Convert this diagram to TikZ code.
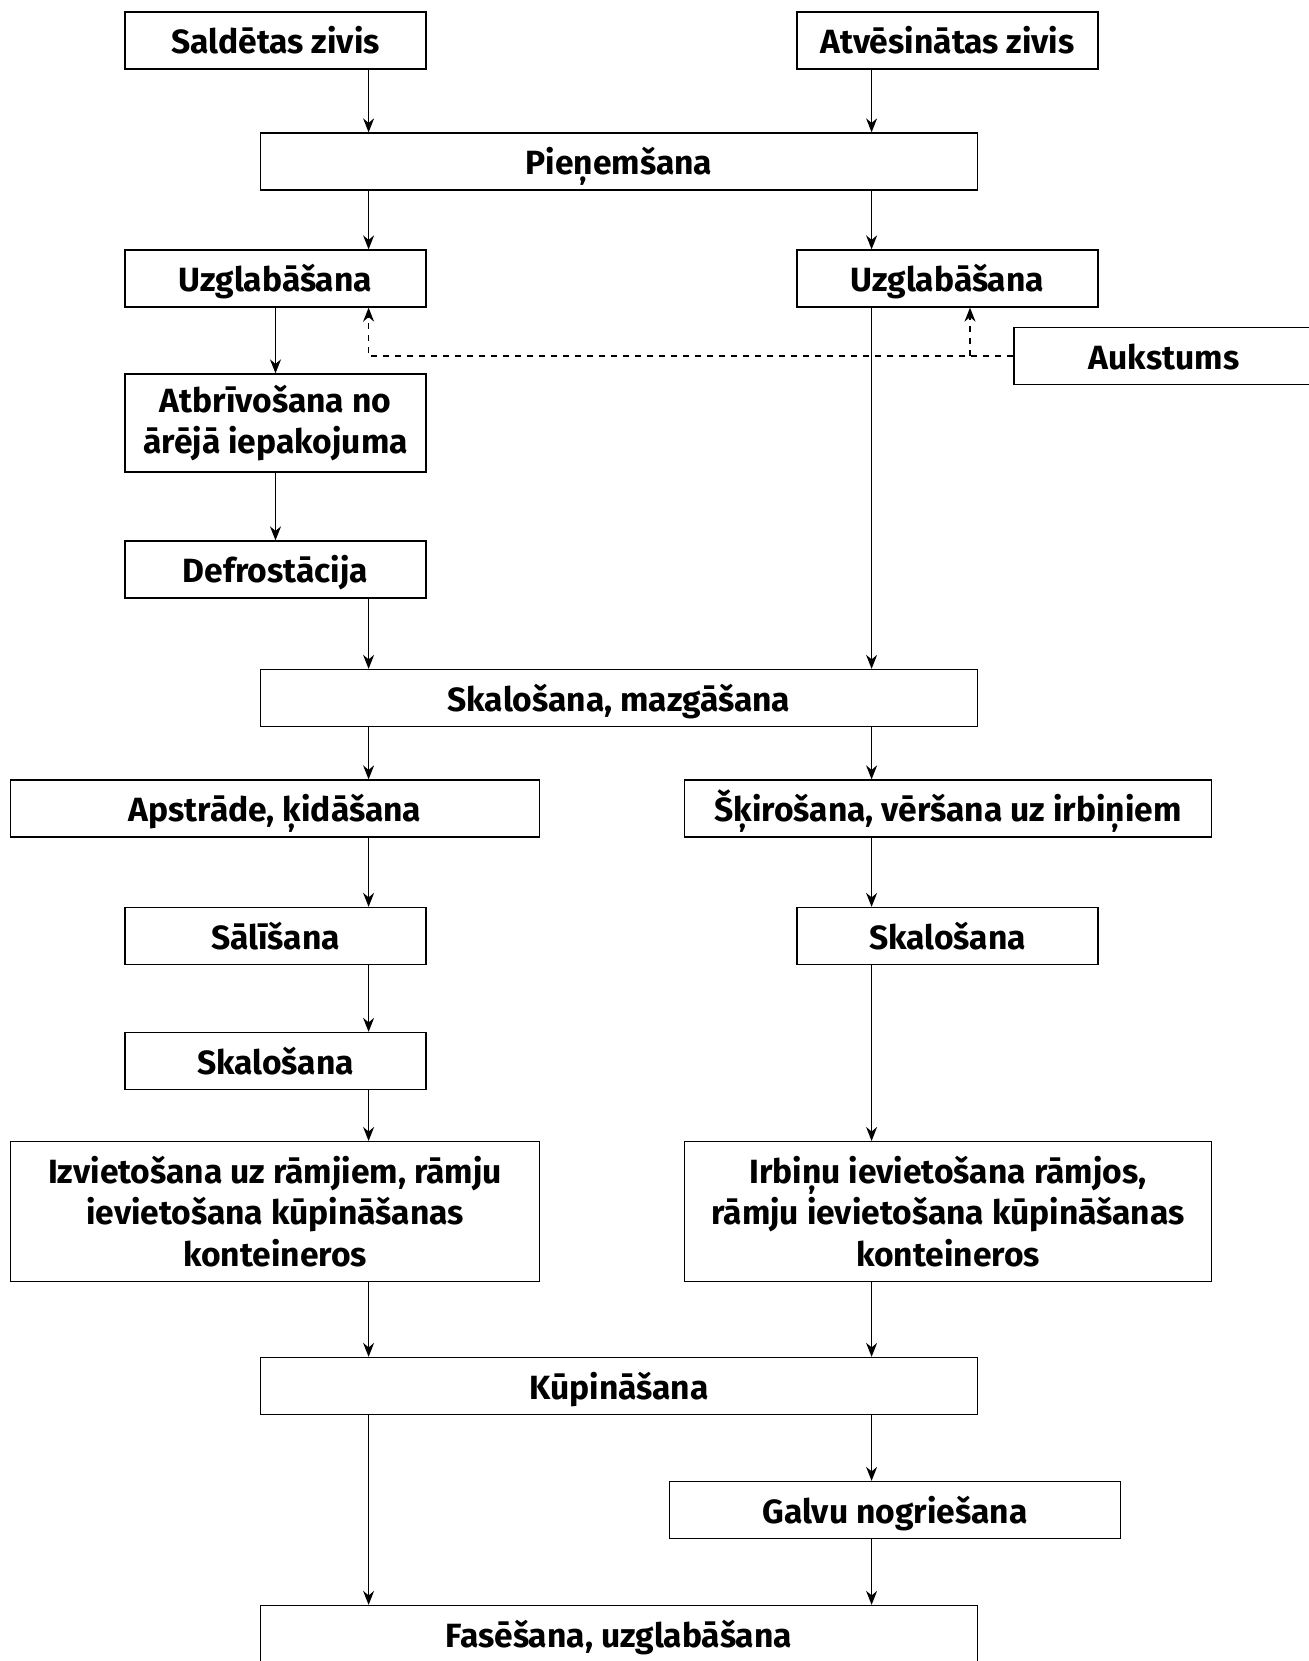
\documentclass[tikz,border=0pt]{standalone}
\usepackage{fontspec}
\setmainfont{Fira Sans}
\usetikzlibrary{arrows.meta}
\begin{document}
\begin{tikzpicture}[x=0.5pt,y=-0.5pt,
  boxbase/.style={draw,line width=0.65pt,inner sep=0pt,align=center,
    font=\fontsize{16.8}{20.7}\selectfont\bfseries,minimum height=28.5pt},
  box/.style={boxbase,text height=13pt,text depth=0pt},
  mbox/.style={boxbase},
  arr/.style={line width=0.65pt,-{Stealth[length=7pt,width=5.5pt]}},
  darr/.style={line width=0.65pt,dashed,dash pattern=on 3pt off 3pt,-{Stealth[length=7pt,width=5.5pt]}}]
\useasboundingbox (0,0) rectangle (1308,1661);
\coordinate (xL) at (368.6,0);
\coordinate (xR) at (871.6,0);
\coordinate (xC) at (275.5,0);
\coordinate (xD) at (970,0);
\node[box,minimum width=150.5pt] (sal) at (275.5,40.5) {Saldētas zivis};
\node[box,minimum width=150.5pt] (atv) at (947.5,40.5) {Atvēsinātas zivis};
\node[box,minimum width=358.5pt] (pie) at (619,161.5) {Pieņemšana};
\node[box,minimum width=150.5pt] (uzL) at (275.5,278.5) {Uzglabāšana};
\node[box,minimum width=150.5pt] (uzR) at (947.5,278.5) {Uzglabāšana};
\node[box,minimum width=150pt] (auk) at (1164,356) {Aukstums};
\node[mbox,minimum width=150.5pt,minimum height=49pt] (atb) at (275.5,423) {Atbrīvošana no\\ārējā iepakojuma};
\node[box,minimum width=150.5pt] (def) at (275.5,569.5) {Defrostācija};
\node[box,minimum width=358.5pt] (skm) at (619,698) {Skalošana, mazgāšana};
\node[box,minimum width=264.25pt] (aps) at (275,808.5) {Apstrāde, ķidāšana};
\node[box,minimum width=263.75pt] (shk) at (948,808.5) {Šķirošana, vēršana uz irbiņiem};
\node[box,minimum width=150.5pt] (sli) at (275.5,936) {Sālīšana};
\node[box,minimum width=150.5pt] (skR) at (947.5,936) {Skalošana};
\node[box,minimum width=150.5pt] (skL) at (275.5,1061) {Skalošana};
\node[mbox,minimum width=264.25pt,minimum height=70pt] (izv) at (275,1211.6) {Izvietošana uz rāmjiem, rāmju\\ievietošana kūpināšanas\\konteineros};
\node[mbox,minimum width=263.75pt,minimum height=70pt] (irb) at (948,1211.6) {Irbiņu ievietošana rāmjos,\\rāmju ievietošana kūpināšanas\\konteineros};
\node[box,minimum width=358.5pt] (kup) at (619,1386) {Kūpināšana};
\node[box,minimum width=225.75pt] (gal) at (895,1510) {Galvu nogriešana};
\node[box,minimum width=358.5pt] (fas) at (619,1634) {Fasēšana, uzglabāšana};
% arrows
\draw[arr] (sal.south -| xL) -- (pie.north -| xL);
\draw[arr] (atv.south -| xR) -- (pie.north -| xR);
\draw[arr] (pie.south -| xL) -- (uzL.north -| xL);
\draw[arr] (pie.south -| xR) -- (uzR.north -| xR);
\draw[arr] (uzL.south -| xC) -- (atb.north -| xC);
\draw[arr] (atb.south -| xC) -- (def.north -| xC);
\draw[arr] (def.south -| xL) -- (skm.north -| xL);
\draw[arr] (uzR.south -| xR) -- (skm.north -| xR);
\draw[arr] (skm.south -| xL) -- (aps.north -| xL);
\draw[arr] (skm.south -| xR) -- (shk.north -| xR);
\draw[arr] (aps.south -| xL) -- (sli.north -| xL);
\draw[arr] (sli.south -| xL) -- (skL.north -| xL);
\draw[arr] (skL.south -| xL) -- (izv.north -| xL);
\draw[arr] (shk.south -| xR) -- (skR.north -| xR);
\draw[arr] (skR.south -| xR) -- (irb.north -| xR);
\draw[arr] (izv.south -| xL) -- (kup.north -| xL);
\draw[arr] (irb.south -| xR) -- (kup.north -| xR);
\draw[arr] (kup.south -| xL) -- (fas.north -| xL);
\draw[arr] (kup.south -| xR) -- (gal.north -| xR);
\draw[arr] (gal.south -| xR) -- (fas.north -| xR);
% dashed cold supply
\coordinate (dj) at (auk.west -| xD);
\draw[darr] (auk.west) -- (auk.west -| xL) -- (uzL.south -| xL);
\draw[darr] (dj) -- (uzR.south -| xD);
\end{tikzpicture}
\end{document}
